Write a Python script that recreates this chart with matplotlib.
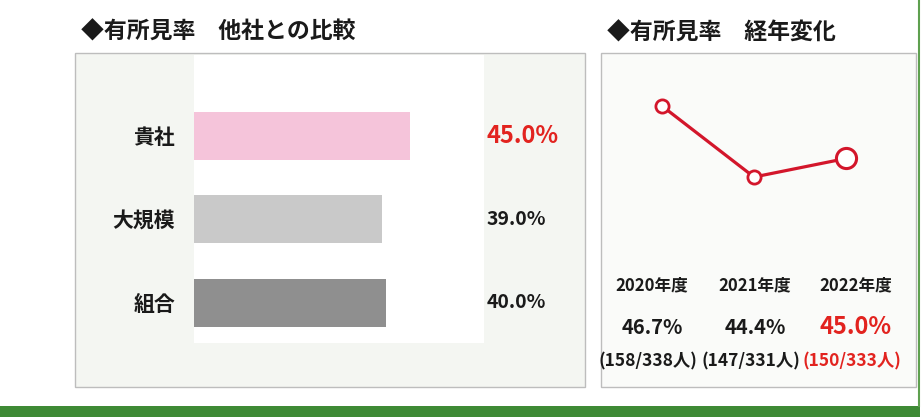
import matplotlib
matplotlib.use('Agg')
import matplotlib.pyplot as plt
from matplotlib import patches, transforms
from matplotlib.lines import Line2D

plt.rcParams['font.family'] = ['Noto Sans CJK JP', 'DejaVu Sans']

# data
companies = ['貴社', '大規模', '組合']
rates = [45.0, 39.0, 40.0]
bar_colors = ['#f5c4da', '#c9c9c9', '#8f8f8f']

years = ['2020年度', '2021年度', '2022年度']
year_rates = [46.7, 44.4, 45.0]
counts = ['(158/338人)', '(147/331人)', '(150/333人)']

RED = '#e2231f'
LINE_RED = '#d3162b'
W, H = 922, 417

fig = plt.figure(figsize=(W / 100, H / 100), dpi=100)
fig.patch.set_facecolor('white')


def box(x0, y0, x1, y1):
    # pixel coords (top-left origin) -> figure fraction rect
    return [x0 / W, 1 - y1 / H, (x1 - x0) / W, (y1 - y0) / H]


def frame(x0, y0, x1, y1, fc, ec='#bdbdbd', lw=1.0):
    r = box(x0, y0, x1, y1)
    fig.patches.append(patches.Rectangle((r[0], r[1]), r[2], r[3], transform=fig.transFigure,
                                         facecolor=fc, edgecolor=ec, linewidth=lw, zorder=-1))


# panel frames
frame(75, 53, 585, 387, '#f4f6f2')
frame(601, 53, 916, 387, '#fafbf9')
# green band at the bottom + right edge
frame(0, 406, 920, 417, '#3e8a35', ec='none')
fig.add_artist(Line2D([918.5 / W, 918.5 / W], [1 - 406 / H, 1.0], transform=fig.transFigure,
                      color='#5ea04f', lw=1.5))

# titles
fig.text(81 / W, 1 - 32 / H, '◆有所見率　他社との比較', fontsize=16.5, fontweight='bold',
         va='center', ha='left', color='#1a1a1a')
fig.text(607 / W, 1 - 33 / H, '◆有所見率　経年変化', fontsize=16.5, fontweight='bold',
         va='center', ha='left', color='#1a1a1a')

# ---- left: horizontal bars ----
ax = fig.add_axes(box(194, 55, 484, 343))
ax.set_facecolor('white')
ypos = list(range(len(companies)))
ax.barh(ypos, rates, height=0.576, color=bar_colors)
ax.set_xlim(0, 60.3)
ax.set_ylim(2.486, -0.972)
ax.set_xticks([])
ax.set_yticks(ypos)
ax.set_yticklabels(companies, fontsize=15, fontweight='bold', color='#1a1a1a')
ax.tick_params(axis='y', length=0, pad=13.5)
for s in ax.spines.values():
    s.set_visible(False)
tr = transforms.blended_transform_factory(ax.transAxes, ax.transData)
for i, v in enumerate(rates):
    if i == 0:
        ax.text(1.01, i, f'{v:.1f}%', transform=tr, fontsize=17, fontweight='bold',
                color=RED, va='center', ha='left', clip_on=False)
    else:
        ax.text(1.01, i, f'{v:.1f}%', transform=tr, fontsize=14, fontweight='bold',
                color='#1a1a1a', va='center', ha='left', clip_on=False)

# ---- right: yearly line ----
ax2 = fig.add_axes(box(606.8, 81.3, 901.2, 204.8))
ax2.set_facecolor('none')
xs = list(range(len(years)))
ax2.plot(xs, year_rates, color=LINE_RED, lw=2.3, zorder=2)
ax2.plot(xs[:-1], year_rates[:-1], 'o', ms=9.5, mfc='white', mec=LINE_RED, mew=2.0, zorder=3)
ax2.plot(xs[-1:], year_rates[-1:], 'o', ms=14.5, mfc='white', mec=LINE_RED, mew=2.2, zorder=3)
ax2.set_xlim(-0.6, 2.6)
ax2.set_ylim(43.5, 47.5)
ax2.axis('off')

col_x = [652, 755, 856]
for i in range(len(years)):
    x = col_x[i] / W
    c = RED if i == len(years) - 1 else '#1a1a1a'
    fig.text(x, 1 - 285 / H, years[i], fontsize=12, fontweight='bold', color='#1a1a1a',
             ha='center', va='center')
    fig.text(x, 1 - 327 / H, f'{year_rates[i]:.1f}%', fontsize=17 if i == 2 else 14.5,
             fontweight='bold', color=c, ha='center', va='center')
    fig.text(x - 4 / W, 1 - 361 / H, counts[i], fontsize=12.5, fontweight='bold', color=c,
             ha='center', va='center')

fig.savefig('out.png', dpi=100)
